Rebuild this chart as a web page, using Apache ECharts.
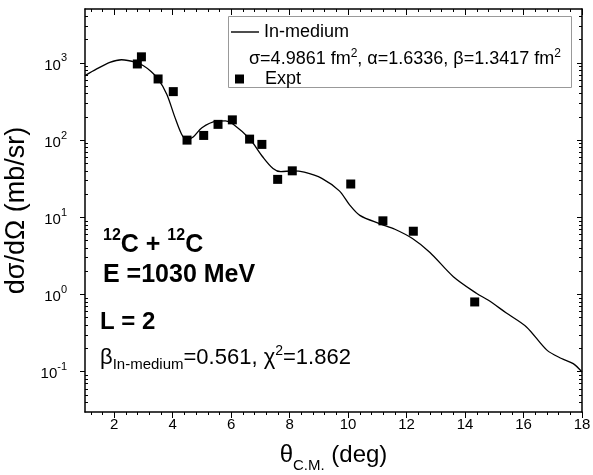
<!DOCTYPE html>
<html>
<head>
<meta charset="utf-8">
<script src="https://cdn.jsdelivr.net/npm/echarts@6/dist/echarts.min.js"></script>
<style>
  html, body { margin: 0; padding: 0; background: #fff; }
  #chart { width: 593px; height: 475px; }
</style>
</head>
<body>
<div id="chart"></div>
<script>
// experimental points
const exptTheta = [2.79, 2.93, 3.50, 4.02, 4.49, 5.06, 5.55, 6.04, 6.63, 7.05, 7.59, 8.09, 10.09, 11.19, 12.23, 14.33]
const exptSigma = [970, 1200, 620, 425, 100, 115, 160, 183, 103, 88, 31, 40, 27, 9.0, 6.6, 0.80]

// in-medium calculation
const curveTheta = [1.0, 1.4, 1.85, 2.25, 2.75, 3.0, 3.25, 3.5, 3.8, 4.07, 4.3, 4.47, 4.7, 5.0, 5.5, 5.8, 6.06, 6.63,
  7.09, 7.43, 7.7, 8.1, 8.5, 9.1, 9.7, 10.05, 10.4, 11.1, 11.6, 12.2, 12.8, 13.6, 14.4, 14.8, 15.4, 16.1, 16.8, 17.3, 17.7, 18.0]
const curveSigma = [685, 836, 1018, 1100, 1020, 920, 780, 620, 390, 200, 120, 101, 110, 145, 176, 178, 162, 104,
  60, 43, 39, 40, 38.5, 32, 22, 14.5, 10.6, 8.2, 7, 5.3, 3.5, 1.7, 1.03, 0.84, 0.58, 0.38, 0.19, 0.148, 0.127, 0.099]

// tick values
const xMajorTicks = [2, 4, 6, 8, 10, 12, 14, 16, 18]
const xMinorTicks = [1.2, 1.6, 2.4, 2.8, 3.2, 3.6, 4.4, 4.8, 5.2, 5.6, 6.4, 6.8, 7.2, 7.6, 8.4, 8.8, 9.2, 9.6,
  10.4, 10.8, 11.2, 11.6, 12.4, 12.8, 13.2, 13.6, 14.4, 14.8, 15.2, 15.6, 16.4, 16.8, 17.2, 17.6]
const yMajorTicks = [0.1, 1, 10, 100, 1000]
const yMinorTicks = [0.04, 0.05, 0.06, 0.07, 0.08, 0.09,
  0.2, 0.3, 0.4, 0.5, 0.6, 0.7, 0.8, 0.9,
  2, 3, 4, 5, 6, 7, 8, 9,
  20, 30, 40, 50, 60, 70, 80, 90,
  200, 300, 400, 500, 600, 700, 800, 900,
  2000, 3000, 4000]
const yMin = 0.03
const yMax = 5000

const FONT = '"Liberation Sans", Arial, sans-serif'
const chart = echarts.init(document.getElementById('chart'))

const frameLine = { show: true, onZero: false, lineStyle: { color: '#000', width: 1.5 } }
const hiddenLine = { show: false, onZero: false }

function xAxisDef(grid, pos, ticks, len, inside, opts) {
  return Object.assign({
    type: 'value', gridIndex: grid, position: pos, min: 1, max: 18,
    axisLine: hiddenLine,
    axisTick: { show: true, inside: inside, length: len, customValues: ticks, lineStyle: { color: '#000', width: 1 } },
    axisLabel: { show: false },
    splitLine: { show: false }
  }, opts || {})
}
function yAxisDef(grid, pos, ticks, len, inside, opts) {
  return Object.assign({
    type: 'log', gridIndex: grid, position: pos, min: yMin, max: yMax, logBase: 10,
    axisLine: hiddenLine,
    axisTick: { show: true, inside: inside, length: len, customValues: ticks, lineStyle: { color: '#000', width: 1 } },
    axisLabel: { show: false },
    splitLine: { show: false }
  }, opts || {})
}
// minor ticks of the log axis, placed on a linear axis spanning log10(yMin)..log10(yMax)
function yMinorDef(pos) {
  return {
    type: 'value', gridIndex: 1, position: pos,
    min: Math.log10(yMin), max: Math.log10(yMax),
    axisLine: hiddenLine,
    axisTick: { show: true, inside: true, length: 3, customValues: yMinorTicks.map(Math.log10), lineStyle: { color: '#000', width: 1 } },
    axisLabel: { show: false },
    splitLine: { show: false }
  }
}

const gridBox = { left: 85, right: 11, top: 9, bottom: 63, containLabel: false, outerBoundsMode: 'none' }

const option = {
  animation: false,
  backgroundColor: '#fff',
  textStyle: { fontFamily: FONT },
  // grid 0 carries the data and major ticks, grid 1 (same box) the minor ticks
  grid: [Object.assign({}, gridBox), Object.assign({}, gridBox)],
  xAxis: [
    xAxisDef(0, 'bottom', xMajorTicks, 6, false, {
      axisLine: frameLine,
      axisLabel: { show: true, customValues: xMajorTicks, color: '#000', fontSize: 15, fontFamily: FONT, margin: 5 },
      name: '{t|θ}{s|C.M.}{t| (deg)}',
      nameLocation: 'middle',
      nameGap: 31,
      nameTextStyle: {
        rich: {
          t: { fontSize: 24, fontFamily: FONT, color: '#000', lineHeight: 30, verticalAlign: 'top' },
          s: { fontSize: 15, fontFamily: FONT, color: '#000', lineHeight: 15, verticalAlign: 'bottom' }
        }
      }
    }),
    xAxisDef(0, 'top', xMajorTicks, 6, true, { axisLine: frameLine }),
    xAxisDef(1, 'bottom', xMinorTicks, 3, false),
    xAxisDef(1, 'top', xMinorTicks, 3, true)
  ],
  yAxis: [
    yAxisDef(0, 'left', yMajorTicks, 5, false, {
      axisLine: frameLine,
      axisLabel: {
        show: true, customValues: yMajorTicks, margin: 18,
        formatter: function (v) {
          return '{b|10}{s|' + Math.round(Math.log10(v)) + '}'
        },
        rich: {
          b: { fontSize: 15, fontFamily: FONT, color: '#000', lineHeight: 20, verticalAlign: 'bottom' },
          s: { fontSize: 11, fontFamily: FONT, color: '#000', lineHeight: 11, verticalAlign: 'top' }
        }
      },
      name: 'dσ/dΩ (mb/sr)',
      nameLocation: 'middle',
      nameGap: 52,
      nameTextStyle: { fontSize: 27, fontFamily: FONT, color: '#000' }
    }),
    yAxisDef(0, 'right', yMajorTicks, 5, true, { axisLine: frameLine }),
    yMinorDef('left'),
    yMinorDef('right')
  ],
  legend: [
    {
      data: [{ name: 'In-medium', icon: 'rect' }], left: 226, top: 18, itemWidth: 28, itemHeight: 1.4,
      textStyle: { fontSize: 18, fontFamily: FONT, color: '#000' }
    },
    {
      data: [{ name: 'Expt', icon: 'rect' }], left: 230, top: 65, itemWidth: 9, itemHeight: 9,
      textStyle: { fontSize: 18, fontFamily: FONT, color: '#000', padding: [0, 0, 0, 16] }
    }
  ],
  graphic: [
    {
      type: 'rect', z: 1,
      shape: { x: 228.5, y: 16.5, width: 343, height: 71 },
      style: { fill: null, stroke: '#999', lineWidth: 1 }
    },
    {
      type: 'text', x: 249, y: 58,
      style: {
        text: '{t|σ=4.9861 fm}{s|2}{t|, α=1.6336, β=1.3417 fm}{s|2}',
        verticalAlign: 'middle',
        rich: {
          t: { fontSize: 18, fontFamily: FONT, fill: '#000', lineHeight: 20, verticalAlign: 'bottom' },
          s: { fontSize: 12, fontFamily: FONT, fill: '#000', lineHeight: 12, verticalAlign: 'top' }
        }
      }
    },
    {
      type: 'text', x: 103, y: 243,
      style: {
        text: '{s|12}{t|C + }{s|12}{t|C}',
        verticalAlign: 'middle',
        rich: {
          t: { fontSize: 25, fontWeight: 'bold', fontFamily: FONT, fill: '#000', lineHeight: 30, verticalAlign: 'bottom' },
          s: { fontSize: 16, fontWeight: 'bold', fontFamily: FONT, fill: '#000', lineHeight: 16, verticalAlign: 'top' }
        }
      }
    },
    {
      type: 'text', x: 103, y: 275,
      style: { text: 'E =1030 MeV', verticalAlign: 'middle', font: 'bold 25px ' + FONT, fill: '#000' }
    },
    {
      type: 'text', x: 100, y: 322,
      style: { text: 'L = 2', verticalAlign: 'middle', font: 'bold 24px ' + FONT, fill: '#000' }
    },
    {
      type: 'text', x: 100, y: 358,
      style: {
        text: '{t|β}{b|In-medium}{t|=0.561, χ}{s|2}{t|=1.862}',
        verticalAlign: 'middle',
        rich: {
          t: { fontSize: 22, fontFamily: FONT, fill: '#000', lineHeight: 28, verticalAlign: 'middle' },
          s: { fontSize: 14, fontFamily: FONT, fill: '#000', lineHeight: 14, verticalAlign: 'top' },
          b: { fontSize: 15, fontFamily: FONT, fill: '#000', lineHeight: 14, verticalAlign: 'bottom' }
        }
      }
    }
  ],
  series: [
    {
      name: 'In-medium',
      type: 'line',
      xAxisIndex: 0, yAxisIndex: 0,
      smooth: 0.3,
      symbol: 'none',
      lineStyle: { color: '#000', width: 1.3 },
      itemStyle: { color: '#000' },
      data: curveTheta.map((t, i) => [t, curveSigma[i]]),
      z: 3
    },
    {
      name: 'Expt',
      type: 'scatter',
      xAxisIndex: 0, yAxisIndex: 0,
      symbol: 'rect',
      symbolSize: 9,
      itemStyle: { color: '#000', opacity: 1 },
      data: exptTheta.map((t, i) => [t, exptSigma[i]]),
      z: 4
    }
  ]
}

chart.setOption(option)
</script>
</body>
</html>
